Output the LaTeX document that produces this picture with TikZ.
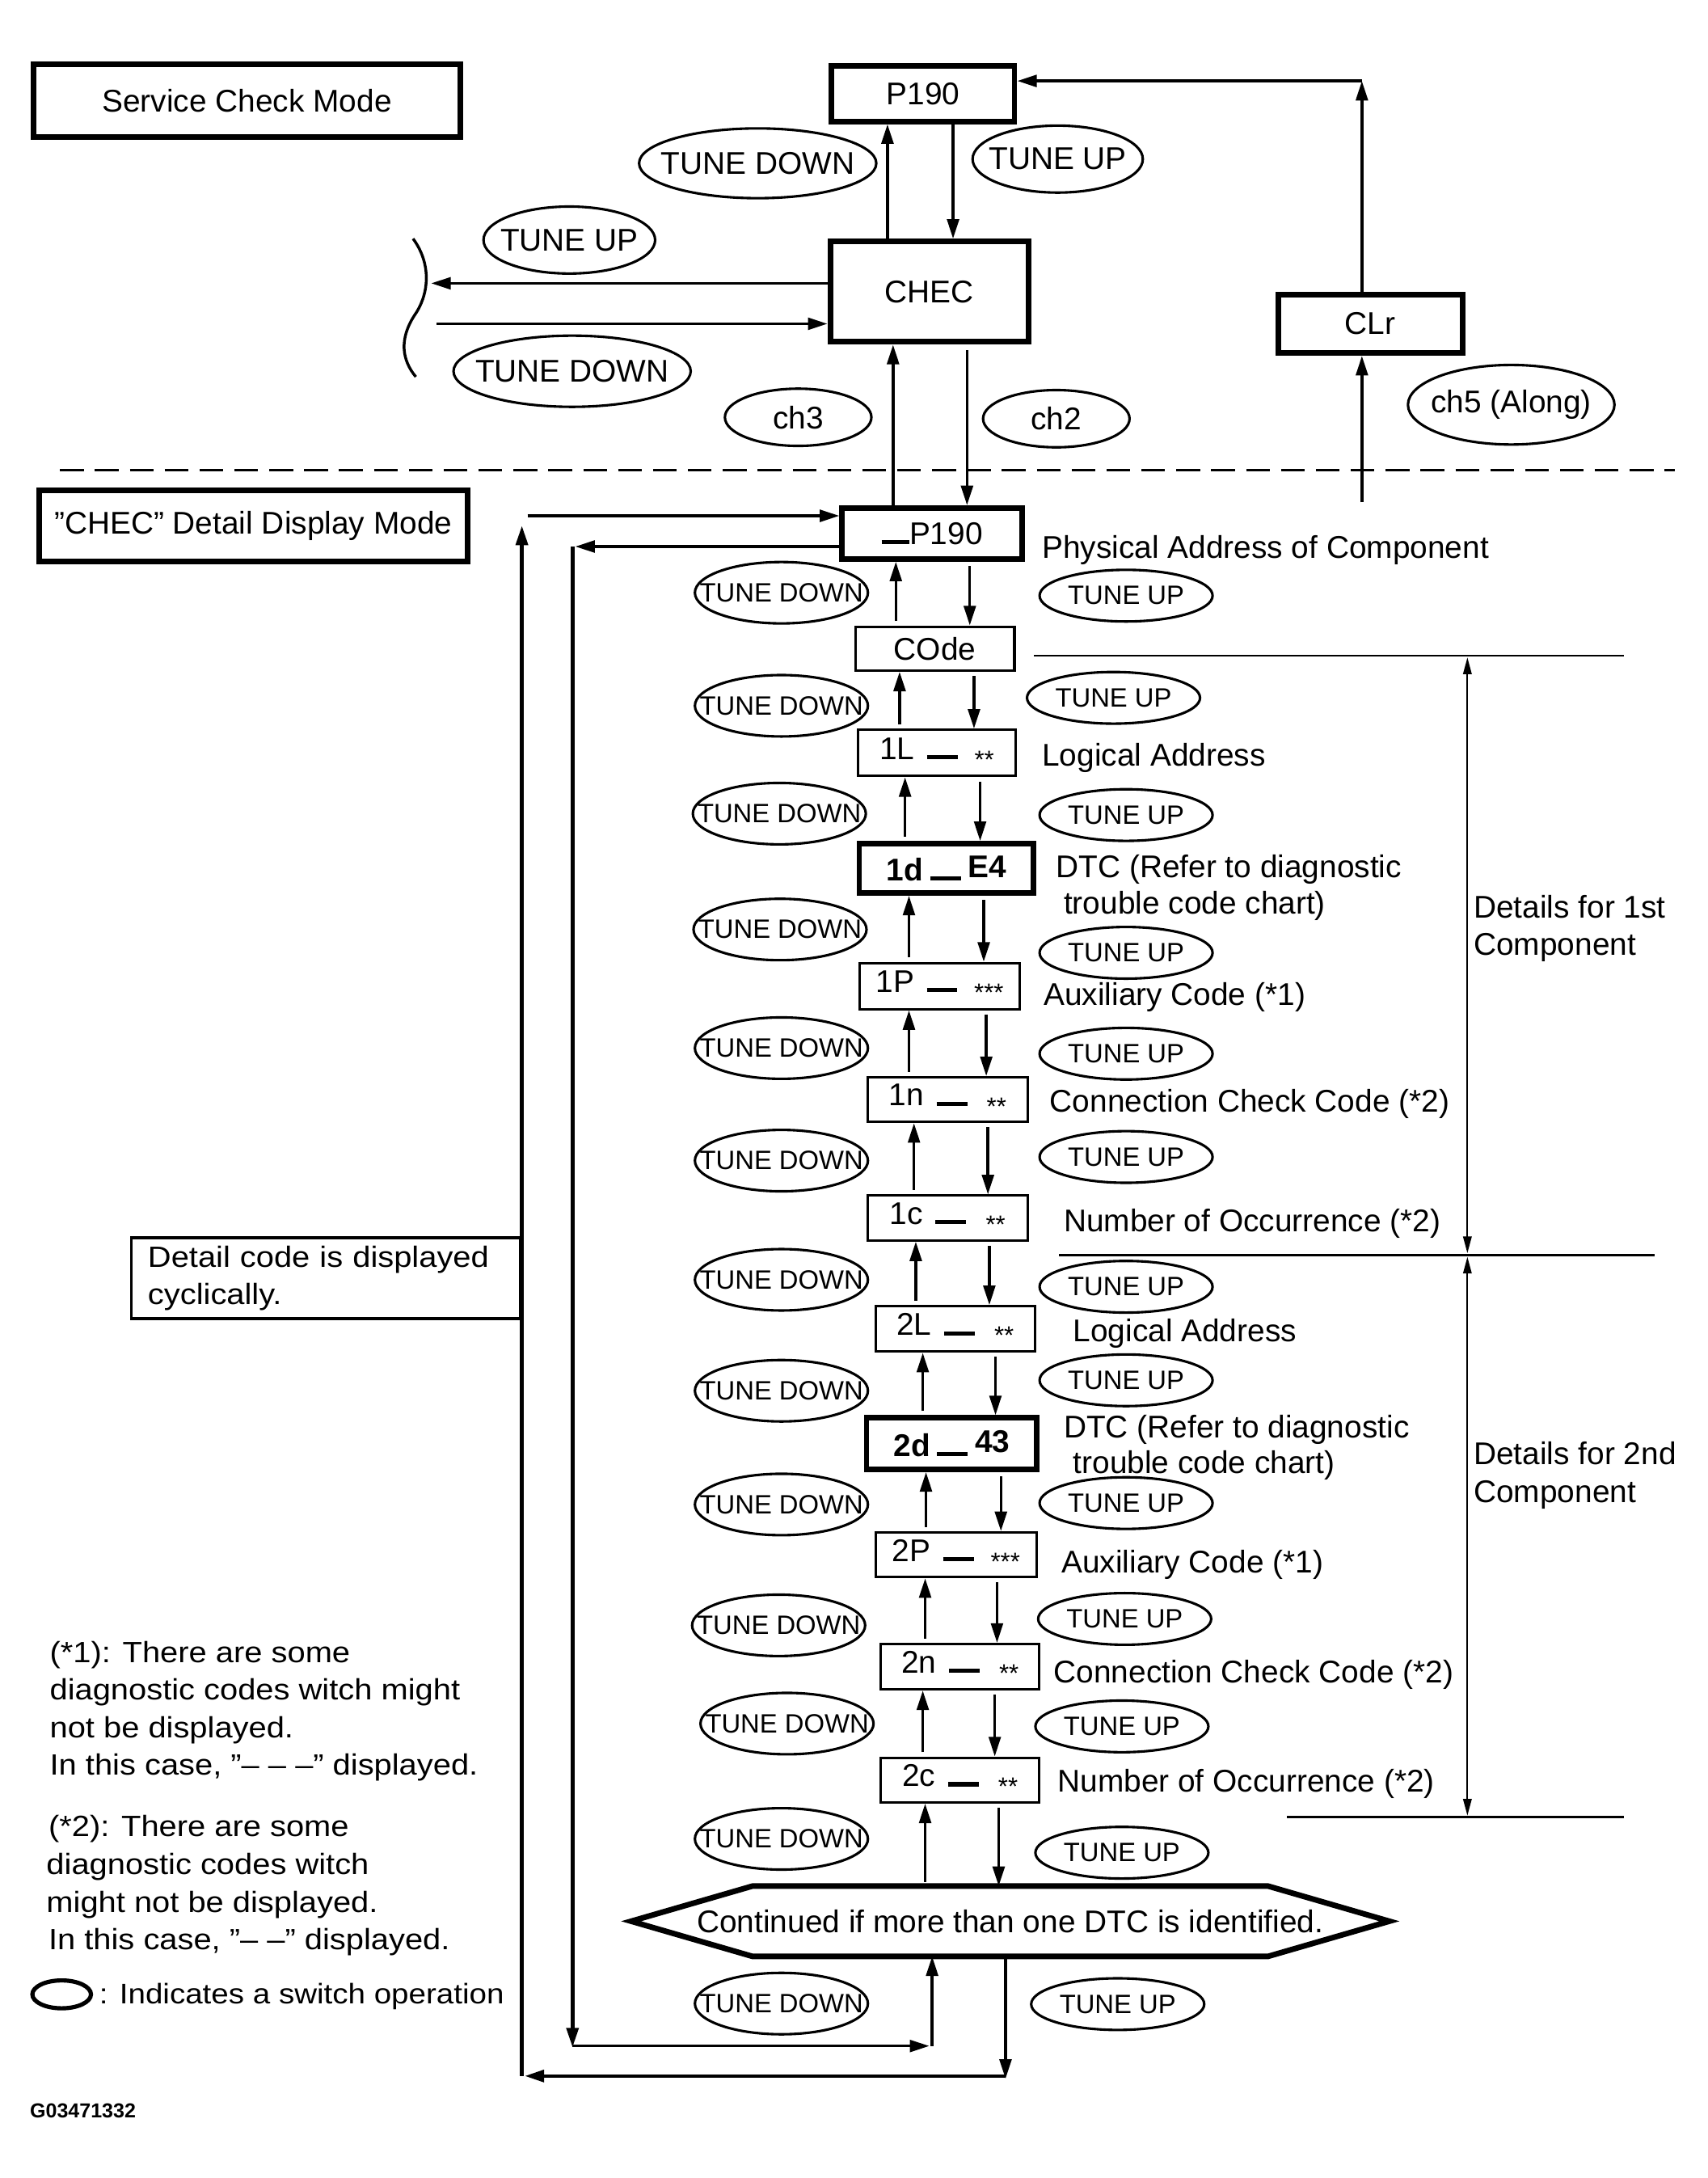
\documentclass[tikz,border=0pt]{standalone}
\usepackage{fontspec}
\setmainfont{Liberation Sans}
\newfontfamily\notefont[FakeStretch=1.1]{Liberation Sans}
\usetikzlibrary{arrows.meta,shapes.geometric,calc}
\newcommand{\mycbar}{\rule{22pt}{3pt}}
\newcommand{\myast}[1]{\raisebox{-6.5pt}{\fontsize{18}{18}\selectfont #1}}
\newcommand{\zw}[1]{\makebox[0pt]{#1}}
\begin{document}
\begin{tikzpicture}[x=1pt,y=-1pt,
  >={Triangle[length=14pt,width=8.5pt]},
  bigfont/.style={font=\fontsize{22.5}{27}\selectfont},
  thickbox/.style={draw,line width=4pt,inner sep=0pt,bigfont},
  thinbox/.style={draw,line width=1.8pt,inner sep=0pt,bigfont},
  ell/.style={draw,ellipse,line width=1.8pt,inner sep=0pt,bigfont},
  sell/.style={draw,ellipse,line width=1.8pt,inner sep=0pt,font=\fontsize{19}{22}\selectfont,minimum width=124pt},
  lbl/.style={anchor=base west,inner sep=0pt,bigfont},
  note/.style={anchor=base west,inner sep=0pt,font=\notefont\fontsize{21}{27}\selectfont},
  conn/.style={line width=2pt,->},
  loopline/.style={line width=2.6pt},
  dim/.style={line width=1.3pt,>={Triangle[length=12pt,width=6pt]}}
]
\useasboundingbox (0,0) rectangle (1224,1560.6);

% ---------- Service check mode ----------
\node[thickbox,minimum width=306pt,minimum height=52pt] (svc) at (177,72) {Service Check Mode};
\node[thickbox,minimum width=131pt,minimum height=40pt] (P190) at (661.5,67) {P190};
\node[thickbox,minimum width=142pt,minimum height=72pt] (CHEC) at (666,209) {CHEC};
\node[thickbox,minimum width=132pt,minimum height=42pt] (CLr) at (982,232) {CLr};

\node[ell,minimum width=170pt,minimum height=50pt] (tdA) at (543,117) {\zw{TUNE DOWN}};
\node[ell,minimum width=122pt,minimum height=48pt] (tuA) at (758,114) {\zw{TUNE UP}};
\node[ell,minimum width=123pt,minimum height=48pt] (tuB) at (408,172) {\zw{TUNE UP}};
\node[ell,minimum width=170pt,minimum height=51pt] (tdB) at (410,266) {\zw{TUNE DOWN}};
\node[ell,minimum width=105pt,minimum height=41pt] (ch3) at (572,299) {\zw{ch3}};
\node[ell,minimum width=105pt,minimum height=41pt] (ch2) at (757,300) {\zw{ch2}};
\node[ell,minimum width=148pt,minimum height=57pt] (ch5) at (1083,290) {\zw{ch5 (Along)}};

\draw[conn] (CHEC.north -| 636,0) -- (P190.south -| 636,0);
\draw[conn] (P190.south -| 683,0) -- (CHEC.north -| 683,0);
\coordinate (brL) at (309,203);
\coordinate (brR) at (313,232);
\draw[conn] (CHEC.west |- 0,203) -- (brL);
\draw[conn] (brR) -- (CHEC.west |- 0,232);
\draw[line width=2pt] (296,171) .. controls (310,190) and (307,212) .. (297,226) .. controls (286,243) and (288,258) .. (298,270);

\coordinate (clrstart) at (976,360);
\coordinate (clrtop) at (976,58);
\draw[conn] (clrstart) -- (CLr.south -| 976,0);
\draw[conn] (CLr.north -| 976,0) -- (clrtop);
\draw[conn] (clrtop) -- (P190.east |- clrtop);

% dashed separator
\draw[line width=1.5pt,dash pattern=on 17pt off 8pt] (43,337) -- (1200,337);

% ---------- CHEC detail display mode ----------
\node[thickbox,minimum width=307pt,minimum height=51pt] (dmode) at (181.5,377) {”CHEC” Detail Display Mode};

\node[thickbox,minimum width=129pt,minimum height=36.5pt] (bP190) at (668,382.25) {\rule{20pt}{3pt}P190};
\node[thinbox,minimum width=114pt,minimum height=31.4pt] (COde) at (670,464.7) {COde};
\node[thinbox,minimum width=113pt,minimum height=33pt] (L1) at (671.4,539.5) {1L\hspace{9pt}\mycbar\hspace{12pt}\myast{**}};
\node[thickbox,minimum width=125pt,minimum height=35.3pt,font=\fontsize{22.5}{27}\selectfont\bfseries] (D1) at (678.3,622.2) {1d\hspace{5pt}\mycbar\hspace{5pt}\raisebox{2.5pt}{E4}};
\node[thinbox,minimum width=115pt,minimum height=33pt] (P1) at (673.4,706.5) {1P\hspace{9pt}\mycbar\hspace{12pt}\myast{***}};
\node[thinbox,minimum width=114.4pt,minimum height=32pt] (N1) at (679.1,787.9) {1n\hspace{9pt}\mycbar\hspace{14pt}\myast{**}};
\node[thinbox,minimum width=114.4pt,minimum height=32pt] (C1) at (679.1,872.7) {1c\hspace{9pt}\mycbar\hspace{14pt}\myast{**}};
\node[thinbox,minimum width=114.4pt,minimum height=32.4pt] (L2) at (684.6,952.2) {2L\hspace{9pt}\mycbar\hspace{14pt}\myast{**}};
\node[thickbox,minimum width=122pt,minimum height=36.8pt,font=\fontsize{22.5}{27}\selectfont\bfseries] (D2) at (682,1034.4) {2d\hspace{5pt}\mycbar\hspace{5pt}\raisebox{2.5pt}{43}};
\node[thinbox,minimum width=115.6pt,minimum height=32pt] (P2) at (685.2,1114) {2P\hspace{9pt}\mycbar\hspace{12pt}\myast{***}};
\node[thinbox,minimum width=113.3pt,minimum height=32.4pt] (N2) at (688,1194.2) {2n\hspace{9pt}\mycbar\hspace{14pt}\myast{**}};
\node[thinbox,minimum width=113.3pt,minimum height=32pt] (C2) at (688,1275.4) {2c\hspace{9pt}\mycbar\hspace{14pt}\myast{**}};

% hexagon
\node[inner sep=0pt,minimum width=543pt,minimum height=50pt,bigfont] (hex) at (724,1376.6) {Continued if more than one DTC is identified.};
\draw[line width=4pt,line join=miter] (hex.west) -- ($(hex.north west)+(87,0)$) -- ($(hex.north east)+(-87,0)$) -- (hex.east) -- ($(hex.south east)+(-87,0)$) -- ($(hex.south west)+(87,0)$) -- cycle;

% vertical chain arrows
\draw[conn] (bP190.north -| 640,0) -- (CHEC.south -| 640,0);
\draw[conn,shorten <=4pt] (CHEC.south -| 693,0) -- (bP190.north -| 693,0);
\foreach \a/\b/\u/\d in {bP190/COde/642/695, COde/L1/644.7/698, L1/D1/648.6/702.4, D1/P1/651.4/705, P1/N1/651.4/706.8, N1/C1/655/708, C1/L2/656.3/709, L2/D2/661.3/713.4, D2/P2/663.6/717.3, P2/N2/663/714.5, N2/C2/661.3/712.9, C2/hex/663/715.7}{
  \draw[conn,shorten <=3pt] (\b.north -| \u,0) -- (\a.south -| \u,0);
  \draw[conn,shorten <=3pt] (\a.south -| \d,0) -- (\b.north -| \d,0);
}

% lower ellipses
\foreach \i/\tx/\ty/\ux/\uy in {1/560/424.7/807/426.8, 2/560/505.7/798/500, 3/558.5/583/807/584, 4/559/666/807/682.7, 5/560/751/807/755, 6/560/831.6/807/829, 7/560/917/807/922, 8/560/996.5/807/989, 9/560/1078/807/1077, 10/558/1164.6/806/1160, 11/564/1235/804/1237, 12/560/1317.6/804/1327.5, 13/560/1435.6/801/1436}{
  \node[sell,minimum height=44pt] (td\i) at (\tx,\ty) {\zw{TUNE DOWN}};
  \node[sell,minimum height=37pt] (tu\i) at (\ux,\uy) {\zw{TUNE UP}};
}

% loops
\coordinate (outBR) at (720.6,1487.5);
\coordinate (outBL) at (374,1487.5);
\coordinate (outTL) at (374,369.6);
\coordinate (inTL) at (410.3,391.6);
\coordinate (inBL) at (410.3,1466);
\coordinate (inBR) at (668,1466);
\draw[conn] (hex.south -| outBR) -- ([yshift=-2pt]outBR);
\draw[conn,loopline] (outBR) -- ([xshift=2pt]outBL);
\draw[conn,loopline] (outBL) -- ([yshift=-7pt]outTL);
\draw[conn] ([xshift=4pt]outTL) -- (bP190.west |- outTL);
\draw[conn] (bP190.west |- inTL) -- ([xshift=2pt]inTL);
\draw[conn,loopline] (inTL) -- ([yshift=-1pt]inBL);
\draw[conn] (inBL) -- ([xshift=-2pt]inBR);
\draw[conn] (inBR) -- (hex.south -| inBR);

% side labels
\node[lbl] (tPhys) at (746.7,400) {Physical Address of Component};
\node[lbl] (tLog1) at (746.7,548.6) {Logical Address};
\node[lbl] (tDtc1a) at (756.7,629) {DTC (Refer to diagnostic};
\node[lbl] (tDtc1b) at (762.2,655) {trouble code chart)};
\node[lbl] (tAux1) at (747.8,720.6) {Auxiliary Code (*1)};
\node[lbl] (tCon1) at (752.2,797) {Connection Check Code (*2)};
\node[lbl] (tNum1) at (762.2,882.5) {Number of Occurrence (*2)};
\node[lbl] (tLog2) at (768.9,961.5) {Logical Address};
\node[lbl] (tDtc2a) at (762.2,1030) {DTC (Refer to diagnostic};
\node[lbl] (tDtc2b) at (769,1056) {trouble code chart)};
\node[lbl] (tAux2) at (760.6,1127) {Auxiliary Code (*1)};
\node[lbl] (tCon2) at (755,1206) {Connection Check Code (*2)};
\node[lbl] (tNum2) at (757.8,1284) {Number of Occurrence (*2)};
\node[lbl] (tDet1a) at (1056,657.5) {Details for 1st};
\node[lbl] (tDet1b) at (1056,684.5) {Component};
\node[lbl] (tDet2a) at (1056,1049.5) {Details for 2nd};
\node[lbl] (tDet2b) at (1056,1076.5) {Component};

% dimension lines
\coordinate (d1a) at (741,470);
\coordinate (d1b) at (1163.5,470);
\coordinate (d2a) at (758.9,899.3);
\coordinate (d2b) at (1185.7,899.3);
\coordinate (d3a) at (922.4,1302);
\coordinate (d3b) at (1163.5,1302);
\draw[dim] (d1a) -- (d1b);
\draw[dim] (d2a) -- (d2b);
\draw[dim] (d3a) -- (d3b);
\draw[dim,<->] (1051.6,471) -- (1051.6,898);
\draw[dim,<->] (1051.6,900.5) -- (1051.6,1301);

% left notes
\node[draw,line width=2pt,minimum width=279pt,minimum height=58pt,inner xsep=12pt,inner ysep=0pt,align=left,text width=255pt,font=\notefont\fontsize{21}{26.5}\selectfont] (cyc) at (233.5,915.75) {Detail code is displayed\\cyclically.};

\node[note] (n1a) at (35.5,1191) {(*1): There are some};
\node[note] (n1b) at (35.5,1218) {diagnostic codes witch might};
\node[note] (n1c) at (35.5,1245) {not be displayed.};
\node[note] (n1d) at (35.5,1272) {In this case, ”– – –” displayed.};
\node[note] (n2a) at (34.6,1316) {(*2): There are some};
\node[note] (n2b) at (33.1,1343) {diagnostic codes witch};
\node[note] (n2c) at (33.1,1370) {might not be displayed.};
\node[note] (n2d) at (34.6,1397) {In this case, ”– –” displayed.};
\node[draw,ellipse,line width=3pt,minimum width=42pt,minimum height=20pt,inner sep=0pt] (legell) at (44.2,1429) {};
\node[note,font=\notefont\fontsize{20.3}{27}\selectfont] (legtxt) at (71,1436) {: Indicates a switch operation};
\node[anchor=base west,inner sep=0pt,font=\fontsize{14.5}{16}\selectfont\bfseries] (gcode) at (21.3,1517.6) {G03471332};
\end{tikzpicture}
\end{document}
